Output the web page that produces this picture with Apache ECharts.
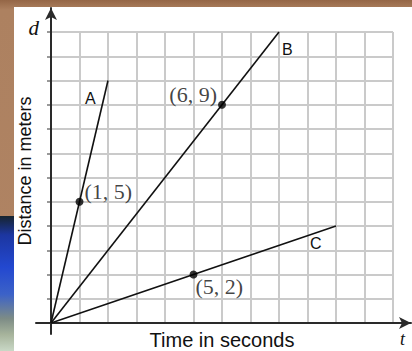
<!DOCTYPE html>
<html>
<head>
<meta charset="utf-8">
<script src="https://cdn.jsdelivr.net/npm/echarts@6/dist/echarts.min.js"></script>
<style>
  html, body { margin: 0; padding: 0; }
  body { width: 412px; height: 351px; position: relative; overflow: hidden;
         background: linear-gradient(to bottom, #946646 0px, #ad8160 10px, #b08464 100%); }
  #photo { position: absolute; left: 0; top: 216px; width: 14px; height: 135px;
           background: linear-gradient(to bottom, #16242e 0%, #1c36a0 14%, #2348d0 38%, #3c62c8 58%, #7d8c86 76%, #a7b49c 88%, #c9d8c6 100%); }
  #panel { position: absolute; left: 14px; top: 7px; right: 0; bottom: 0; background: #fff; }
  #chart { position: absolute; left: 0; top: 0; width: 412px; height: 351px; }
</style>
</head>
<body>
<div id="photo"></div>
<div id="panel"></div>
<div id="chart"></div>
<script>
// lines from the origin: name and end point
var lineNames = ['A', 'B', 'C'];
var lineEnds = [[2, 10], [8, 12], [10, 4]];
// marked points
var pointValues = [[1, 5], [6, 9], [5, 2]];
var axisMax = 12;

var chart = echarts.init(document.getElementById('chart'), null, { renderer: 'svg' });

var sans = '"Liberation Sans", Arial, sans-serif';
var serif = '"Liberation Serif", "Times New Roman", serif';
var gridGray = '#cacaca';
var axisInk = '#2a2a2a';

// where the line letters sit, relative to each line end
var endLabelOffsets = [[-31, 18], [-5, 17], [-34, 17]];
// where the coordinate labels sit, relative to each point
var pointLabelLayout = [
  { position: 'right', distance: 1, offset: [0, -10] },
  { position: 'left', distance: 1, offset: [0, -10] },
  { position: 'right', distance: 0, offset: [-2, 12] }
];

var series = lineNames.map(function(name, i) {
  return {
    type: 'line',
    name: name,
    xAxisIndex: 0,
    yAxisIndex: 0,
    data: [[0, 0], lineEnds[i]],
    showSymbol: false,
    lineStyle: { color: '#111', width: 1.6 },
    endLabel: {
      show: true,
      formatter: name,
      color: '#111',
      fontFamily: sans,
      fontSize: 16,
      offset: endLabelOffsets[i]
    },
    z: 3
  };
});

series.push({
  type: 'scatter',
  xAxisIndex: 0,
  yAxisIndex: 0,
  symbolSize: 8,
  itemStyle: { color: '#000' },
  data: pointValues.map(function(p, i) {
    return { value: p, label: pointLabelLayout[i] };
  }),
  label: {
    show: true,
    color: '#111',
    fontFamily: serif,
    fontSize: 22,
    formatter: function(p) { return '(' + p.value[0] + ', ' + p.value[1] + ')'; }
  },
  z: 4
});

chart.setOption({
  animation: false,
  grid: [
    { left: 51, right: 19, top: 32, bottom: 28, outerBoundsMode: 'none', containLabel: false },
    { left: 36, right: 1, top: 8, bottom: 17, outerBoundsMode: 'none', containLabel: false }
  ],
  xAxis: [
    {
      gridIndex: 0, type: 'value', min: 0, max: axisMax, interval: 1,
      axisLine: { show: false }, axisTick: { show: false }, axisLabel: { show: false },
      splitLine: { show: true, lineStyle: { color: gridGray, width: 2 } },
      name: 'Time in seconds', nameLocation: 'middle', nameGap: 7,
      nameTextStyle: { fontFamily: sans, fontSize: 20, color: '#111', verticalAlign: 'top' }
    },
    {
      gridIndex: 1, type: 'value', min: -0.526, max: 12.63, z: 2,
      axisLine: { show: true, onZero: true, lineStyle: { color: axisInk, width: 2 },
                  symbol: ['none', 'arrow'], symbolSize: [9, 12] },
      axisTick: { show: false }, axisLabel: { show: false }, splitLine: { show: false },
      name: 't', nameLocation: 'end', nameGap: -6, nameMoveOverlap: false,
      nameTextStyle: { fontFamily: serif, fontStyle: 'italic', fontSize: 18, color: '#111',
                       align: 'right', verticalAlign: 'top', padding: [7, 0, 0, 0] }
    }
  ],
  yAxis: [
    {
      gridIndex: 0, type: 'value', min: 0, max: axisMax, interval: 1,
      axisLine: { show: false }, axisLabel: { show: false },
      axisTick: { show: true, length: 4, lineStyle: { color: '#999', width: 2 } },
      splitLine: { show: true, lineStyle: { color: gridGray, width: 2 } },
      name: 'd', nameLocation: 'end', nameGap: 4,
      nameTextStyle: { fontFamily: serif, fontStyle: 'italic', fontSize: 21, color: '#111',
                       align: 'right', verticalAlign: 'middle', padding: [0, 12, 0, 0] }
    },
    {
      gridIndex: 1, type: 'value', min: -0.454, max: 12.99, z: 2,
      axisLine: { show: true, onZero: true, lineStyle: { color: axisInk, width: 2 },
                  symbol: ['none', 'arrow'], symbolSize: [9, 12] },
      axisTick: { show: false }, axisLabel: { show: false }, splitLine: { show: false },
      name: 'Distance in meters', nameLocation: 'middle', nameGap: 2, nameRotate: 90,
      nameTextStyle: { fontFamily: sans, fontSize: 18, color: '#111' }
    }
  ],
  series: series
});
window.addEventListener('resize', function() { chart.resize(); });
</script>
</body>
</html>
